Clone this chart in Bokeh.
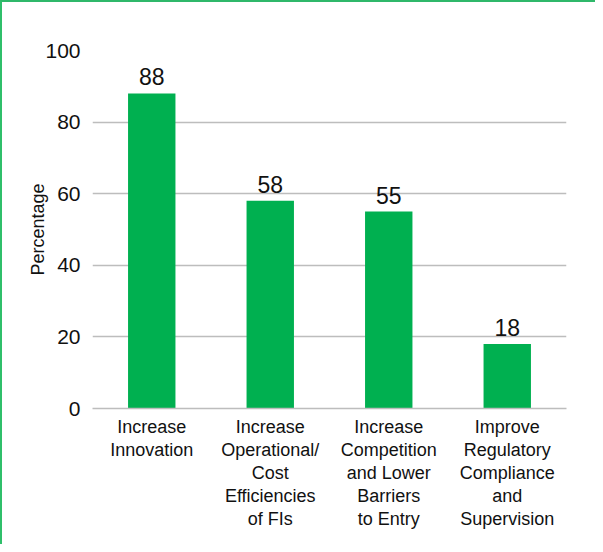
from bokeh.plotting import figure
from bokeh.models import ColumnDataSource, Range1d, FixedTicker, FactorRange
from bokeh.core.properties import value
from bokeh.embed import file_html
from bokeh.resources import INLINE

categories = ["Increase\nInnovation",
              "Increase\nOperational/\nCost\nEfficiencies\nof FIs",
              "Increase\nCompetition\nand Lower\nBarriers\nto Entry",
              "Improve\nRegulatory\nCompliance\nand\nSupervision"]
values = [88, 58, 55, 18]
labels = ["88", "58", "55", "18"]
y_ticks = [0, 20, 40, 60, 80, 100]

FONT = "Liberation Sans"

src = ColumnDataSource(dict(cat=categories, val=values, lab=labels))

p = figure(x_range=FactorRange(*categories, range_padding=0), y_range=Range1d(0, 100),
           width=595, height=544, output_backend="svg", toolbar_location=None,
           min_border_left=90, min_border_right=31, min_border_top=48, min_border_bottom=138)
p.styles = {"border-left": "2px solid #2fbf6a", "border-top": "2px solid #2fb86a"}
p.outline_line_color = None

p.vbar(x="cat", top="val", width=0.4, source=src, fill_color="#00b050", line_color=None)
p.text(x="cat", y="val", text="lab", source=src, text_align="center", text_baseline="bottom",
       y_offset=-8, text_font=value(FONT), text_font_size="23px", text_color="#111111")

p.xgrid.grid_line_color = None
p.ygrid.grid_line_color = "#bdbdbd"
p.ygrid.grid_line_width = 1.5
p.ygrid.ticker = FixedTicker(ticks=y_ticks)

p.yaxis.ticker = FixedTicker(ticks=y_ticks)
p.yaxis.axis_line_color = None
p.yaxis.major_tick_line_color = None
p.yaxis.minor_tick_line_color = None
p.yaxis.major_tick_out = 0
p.yaxis.major_tick_in = 0
p.yaxis.major_label_standoff = 12
p.yaxis.major_label_text_font = FONT
p.yaxis.major_label_text_font_size = "21px"
p.yaxis.major_label_text_color = "#111111"
p.yaxis.axis_label = "Percentage"
p.yaxis.axis_label_text_font = FONT
p.yaxis.axis_label_text_font_size = "18px"
p.yaxis.axis_label_text_font_style = "normal"
p.yaxis.axis_label_text_color = "#111111"
p.yaxis.axis_label_standoff = -6

p.xaxis.axis_line_color = "#bdbdbd"
p.xaxis.axis_line_width = 1.5
p.xaxis.major_tick_line_color = None
p.xaxis.major_tick_out = 0
p.xaxis.major_tick_in = 0
p.xaxis.major_label_standoff = 8
p.xaxis.major_label_text_font = FONT
p.xaxis.major_label_text_font_size = "18px"
p.xaxis.major_label_text_line_height = 1.15
p.xaxis.major_label_text_color = "#111111"
p.xaxis.major_label_orientation = "horizontal"

open("out.html", "w").write(file_html(p, INLINE))
